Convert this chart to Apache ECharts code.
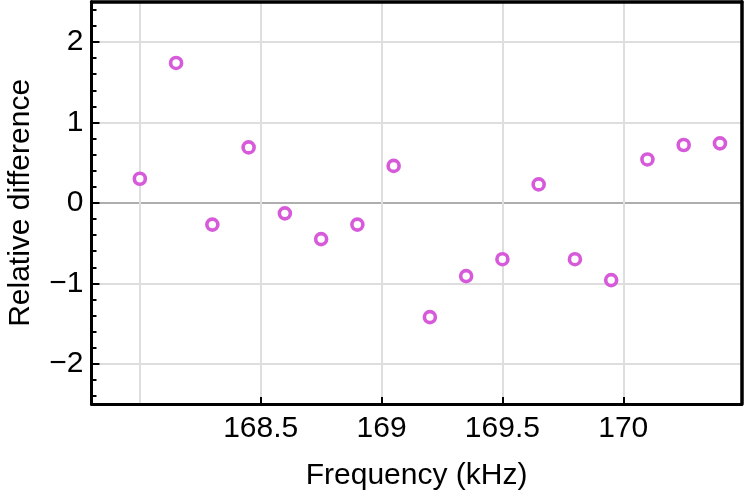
<!DOCTYPE html>
<html>
<head>
<meta charset="utf-8">
<script src="https://cdn.jsdelivr.net/npm/echarts@6/dist/echarts.min.js"></script>
<style>
  html, body { margin: 0; padding: 0; background: #fff; }
  #chart { width: 747px; height: 496px; }
</style>
</head>
<body>
<div id="chart"></div>
<script>
// data
const freqs = [168.0, 168.15, 168.3, 168.45, 168.6, 168.75, 168.9, 169.05, 169.2,
               169.35, 169.5, 169.65, 169.8, 169.95, 170.1, 170.25, 170.4];
const diffs = [0.30, 1.74, -0.27, 0.69, -0.13, -0.45, -0.27, 0.46, -1.42,
               -0.91, -0.70, 0.23, -0.70, -0.96, 0.54, 0.72, 0.74];

const xTickValues = [168.5, 169, 169.5, 170];
const xGridValues = [168, 168.5, 169, 169.5, 170];
const yTickValues = [-2, -1, 0, 1, 2];
const yMinorValues = [-2.4, -2.2, -1.8, -1.6, -1.4, -1.2, -0.8, -0.6, -0.4, -0.2,
                      0.2, 0.4, 0.6, 0.8, 1.2, 1.4, 1.6, 1.8, 2.2, 2.4];

const FONT = 'Liberation Sans, Arial, sans-serif';
const gridGray = '#dedede';
const X_MIN = 167.8, X_MAX = 170.49;
const Y_MIN = -2.5, Y_MAX = 2.5;

let chart = echarts.init(document.getElementById('chart'));

// plain axis used only to draw a frame edge
function frameAxis(pos, min, max) {
  return {
    type: 'value', position: pos, min: min, max: max,
    axisLine: { show: true, onZero: false, lineStyle: { color: '#000', width: 3.5 } },
    axisTick: { show: false }, axisLabel: { show: false }, splitLine: { show: false }
  };
}

let option = {
  animation: false,
  grid: {
    left: 91.5,
    top: 1.8,
    width: 650.2,
    height: 402.2,
    containLabel: false,
    outerBoundsMode: 'none'
  },
  xAxis: [
    {
      type: 'value',
      position: 'bottom',
      min: X_MIN,
      max: X_MAX,
      axisLine: { show: true, onZero: false, lineStyle: { color: '#000', width: 3 } },
      axisTick: { show: true, inside: true, length: 7, customValues: xTickValues,
                  lineStyle: { color: '#000', width: 2 } },
      axisLabel: { customValues: xTickValues, fontSize: 30, fontFamily: FONT, color: '#000', margin: 10 },
      splitLine: { show: false },
      name: 'Frequency (kHz)',
      nameLocation: 'middle',
      nameGap: 57,
      nameTextStyle: { fontSize: 30, fontFamily: FONT, color: '#000' }
    },
    {
      // only used for the vertical grid lines
      type: 'value',
      position: 'bottom',
      min: X_MIN,
      max: X_MAX,
      axisLine: { show: false },
      axisTick: { show: false, customValues: xGridValues },
      axisLabel: { show: false },
      splitLine: { show: true, lineStyle: { color: gridGray, width: 2 } }
    },
    frameAxis('top', X_MIN, X_MAX)
  ],
  yAxis: [
    {
      type: 'value',
      position: 'left',
      min: Y_MIN,
      max: Y_MAX,
      axisLine: { show: true, onZero: false, lineStyle: { color: '#000', width: 3 } },
      axisTick: { show: true, inside: true, length: 8, customValues: yTickValues,
                  lineStyle: { color: '#000', width: 2 } },
      axisLabel: {
        customValues: yTickValues, fontSize: 30, fontFamily: FONT, color: '#000', margin: 8,
        formatter: v => v < 0 ? '\u2212' + Math.abs(v) : String(v)
      },
      splitLine: { show: true, lineStyle: { color: [gridGray, gridGray, '#aeaeae', gridGray, gridGray], width: 2 } },
      name: 'Relative difference',
      nameLocation: 'middle',
      nameRotate: 90,
      nameGap: 56,
      nameTextStyle: { fontSize: 30, fontFamily: FONT, color: '#000' }
    },
    {
      // minor ticks
      type: 'value',
      position: 'left',
      min: Y_MIN,
      max: Y_MAX,
      axisLine: { show: false },
      axisTick: { show: true, inside: true, length: 5, customValues: yMinorValues,
                  lineStyle: { color: '#000', width: 2 } },
      axisLabel: { show: false },
      splitLine: { show: false }
    },
    frameAxis('right', Y_MIN, Y_MAX)
  ],
  series: [
    {
      type: 'scatter',
      xAxisIndex: 0,
      yAxisIndex: 0,
      symbol: 'circle',
      symbolSize: 11,
      itemStyle: { color: '#fff', borderColor: '#d65ad9', borderWidth: 3.6, opacity: 1 },
      data: freqs.map((f, i) => [f, diffs[i]])
    }
  ]
};

option && chart.setOption(option);
</script>
</body>
</html>
